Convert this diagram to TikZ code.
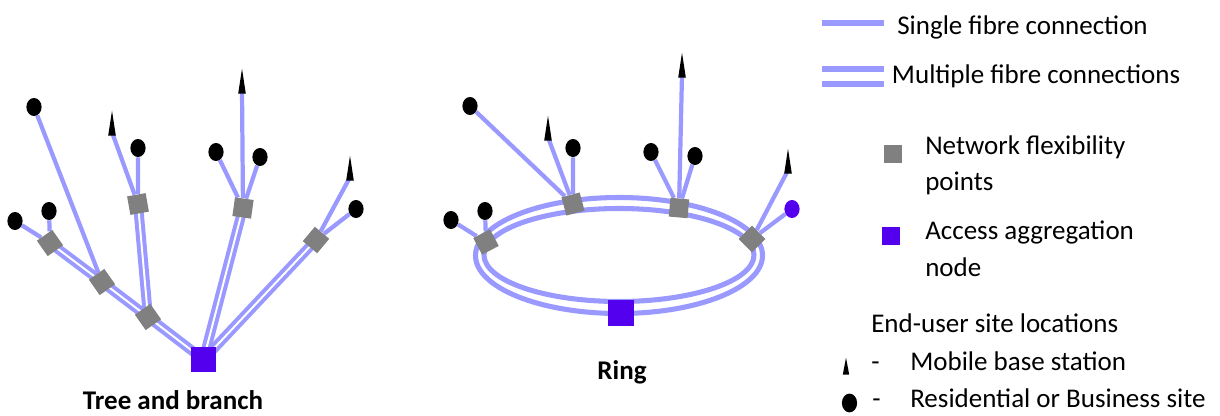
\documentclass[tikz,border=0pt]{standalone}
\usepackage{fontspec}
\setmainfont{Carlito}
\usepackage{tikz}
\usetikzlibrary{shapes.geometric,backgrounds}
\definecolor{fibre}{HTML}{9999FF}
\definecolor{flex}{HTML}{808080}
\definecolor{aggr}{HTML}{5200EE}

\begin{document}
\begin{tikzpicture}[x=0.025cm,y=-0.025cm,
  single/.style={fibre,line width=3pt},
  multi/.style={fibre,line width=2.85pt,double=white,double distance=1.4pt},
  fp/.style={fill=flex,inner sep=0pt,minimum size=0.47cm},
  agg/.style={fill=aggr,inner sep=0pt,minimum size=0.63cm},
  site/.style={ellipse,fill=black,inner sep=0pt,minimum width=0.38cm,minimum height=0.45cm},
  mobile/.style={isosceles triangle,isosceles triangle stretches,shape border rotate=90,fill=black,inner sep=0pt,minimum height=0.62cm,minimum width=0.19cm,anchor=apex},
  lbl/.style={font=\fontsize{19.2}{26}\selectfont,inner sep=0pt,anchor=base west,align=left}]
\useasboundingbox (0,0) rectangle (1220,415);
\node[agg] (agg1) at (203.5,359.5) {};
\node[fp,rotate=35] (fpA) at (50,243) {};
\node[fp,rotate=35] (fpB) at (102,282) {};
\node[fp,rotate=35] (fpC) at (148,317) {};
\node[fp,rotate=10] (fpD) at (138,204) {};
\node[fp,rotate=-8] (fpE) at (243,208) {};
\node[fp,rotate=50] (fpF) at (316,240) {};
\node[site] (sA) at (34,107) {};
\node[site] (sB) at (15,221) {};
\node[site] (sC) at (49,211) {};
\node[site] (sE) at (138,148) {};
\node[site] (sG) at (216,152) {};
\node[site] (sH) at (260,157) {};
\node[site] (sJ) at (356,209) {};
\node[mobile] (mD) at (112,110) {};
\node[mobile] (mF) at (242,68) {};
\node[mobile] (mI) at (350,155) {};
\node[font=\fontsize{19.2}{26}\selectfont\bfseries,inner sep=0pt,anchor=base] (tree) at (173,409) {Tree and branch};
\node[agg,minimum size=0.65cm] (agg2) at (621,313) {};
\node[fp,rotate=28] (rA) at (486,242) {};
\node[fp,rotate=15] (rB) at (573,204) {};
\node[fp,rotate=-5] (rC) at (679,208) {};
\node[fp,rotate=45] (rD) at (752,239) {};
\node[site] (sK) at (470,106) {};
\node[site] (sM) at (573,148) {};
\node[site] (sN) at (651,152) {};
\node[site] (sP) at (695,156) {};
\node[site] (sS) at (451,220) {};
\node[site] (sT) at (485,211) {};
\node[site,fill=aggr] (sR) at (792,209) {};
\node[mobile] (mL) at (548,115) {};
\node[mobile] (mO) at (682,52) {};
\node[mobile] (mQ) at (788,148) {};
\node[font=\fontsize{19.2}{26}\selectfont\bfseries,inner sep=0pt,anchor=base] (ring) at (622,379.3) {Ring};
\begin{scope}[on background layer]
\fill[white] (0,0) rectangle (1220,415);
\draw[multi] (agg1.center)--(fpC.center);
\draw[multi] (fpC.center)--(fpB.center);
\draw[multi] (fpB.center)--(fpA.center);
\draw[multi] (fpC.center)--(fpD.center);
\draw[multi] (agg1.center)--(fpE.center);
\draw[multi] (agg1.center)--(fpF.center);
\draw[single] (sA)--(fpB);
\draw[single] (sB)--(fpA);
\draw[single] (sC)--(fpA);
\draw[single] (mD.center)--(fpD);
\draw[single] (sE)--(fpD);
\draw[single] (mF.center)--(fpE);
\draw[single] (sG)--(fpE);
\draw[single] (sH)--(fpE);
\draw[single] (mI.center)--(fpF);
\draw[single] (sJ)--(fpF);
\draw[single,line width=3.6pt] (619,255.5) ellipse [x radius=143.5,y radius=58];
\draw[single,line width=3.6pt] (619,255) ellipse [x radius=135,y radius=46.5];
\draw[single] (sS)--(rA);
\draw[single] (sT)--(rA);
\draw[single] (sK)--(rB);
\draw[single] (mL.center)--(rB);
\draw[single] (sM)--(rB);
\draw[single] (sN)--(rC);
\draw[single] (mO.center)--(rC);
\draw[single] (sP)--(rC);
\draw[single] (mQ.center)--(rD);
\draw[single] (sR)--(rD);
\end{scope}
\coordinate (sgl1) at (822,23);
\coordinate (sgl2) at (884,23);
\draw[single,line width=4.27pt] (sgl1)--(sgl2);
\coordinate (mul1) at (822,76.5);
\coordinate (mul2) at (884,76.5);
\draw[fibre,line width=4.27pt,double=white,double distance=6.4pt] (mul1)--(mul2);
\node[lbl] (tsgl) at (897,34) {Single fibre connection};
\node[lbl] (tmul) at (891.7,83) {Multiple fibre connections};
\node[fp,minimum size=0.45cm] (kfp) at (892.5,153.5) {};
\node[lbl] (tfp) at (925,190.7) {Network flexibility\\points};
\node[agg,minimum size=0.44cm] (kagg) at (891,236) {};
\node[lbl] (tagg) at (925,276) {Access aggregation\\node};
\node[lbl] (tend) at (871,332.7) {End-user site locations};
\node[mobile,minimum height=0.42cm,minimum width=0.16cm] (kmob) at (846,357) {};
\node[lbl] (dmob) at (871,370.7) {-};
\node[lbl] (tmob) at (910,370.7) {Mobile base station};
\node[site,minimum height=0.47cm] (ksite) at (849.5,403) {};
\node[lbl] (dsite) at (872,407.3) {-};
\node[lbl] (tsite) at (910,407.3) {Residential or Business site};
\end{tikzpicture}
\end{document}
